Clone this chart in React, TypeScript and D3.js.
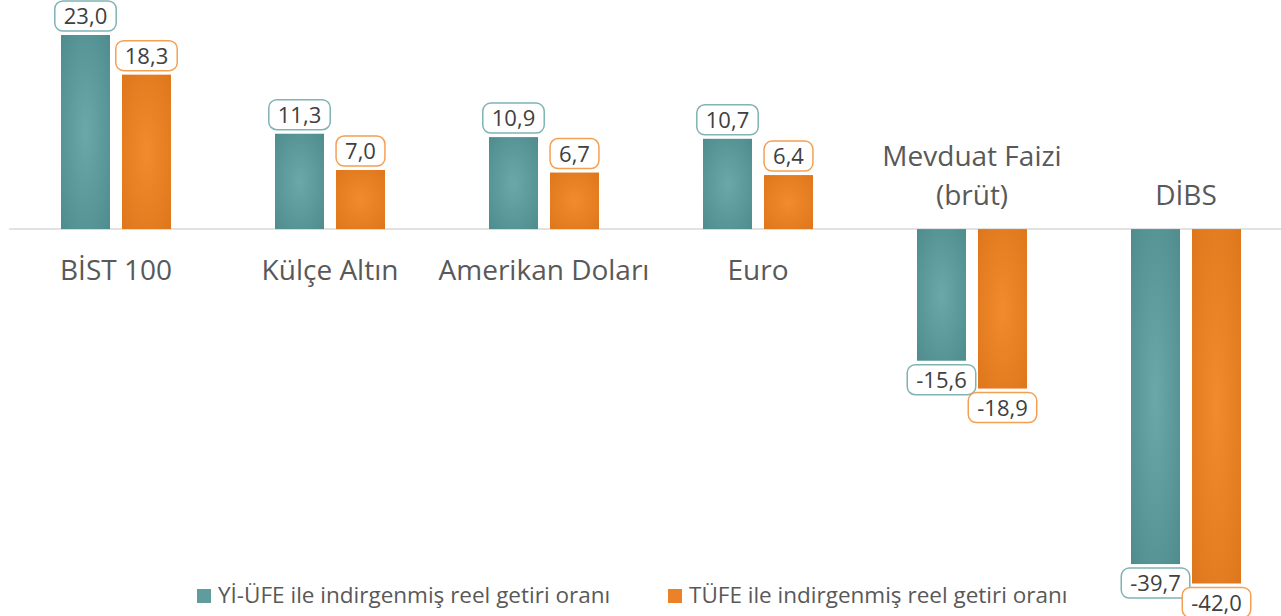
import React, { useEffect, useRef } from "react";
import * as d3 from "d3";

const categories = ["BİST 100", "Külçe Altın", "Amerikan Doları", "Euro", "Mevduat Faizi\n(brüt)", "DİBS"];
const seriesNames = ["Yİ-ÜFE ile indirgenmiş reel getiri oranı", "TÜFE ile indirgenmiş reel getiri oranı"];
const yiUfe = [23.0, 11.3, 10.9, 10.7, -15.6, -39.7];
const tufe = [18.3, 7.0, 6.7, 6.4, -18.9, -42.0];
const colors = ["#5f9c9d", "#ec8227"];
const borderColors = ["#7fb3b5", "#f3a055"];

const W = 1281;
const H = 616;
const FONT = "'Open Sans', 'Noto Sans', sans-serif";

export default function App() {
  const ref = useRef<SVGSVGElement | null>(null);
  useEffect(() => {
    const svg = d3.select(ref.current);
    svg.selectAll("*").remove();
    const defs = svg.append("defs");
    const grads = [
      ["g0", "#6aa8a9", "#4f8c8e"],
      ["g1", "#f28b2c", "#de761c"],
    ];
    grads.forEach(([id, c1, c2]) => {
      const g = defs.append("radialGradient").attr("id", id).attr("cx", "50%").attr("cy", "50%").attr("r", "70%");
      g.append("stop").attr("offset", "0%").attr("stop-color", c1);
      g.append("stop").attr("offset", "100%").attr("stop-color", c2);
    });

    const x = d3.scaleBand<number>().domain(d3.range(categories.length)).range([9, 1293]).paddingInner(0).paddingOuter(0);
    const y = d3.scaleLinear().domain([-42, 23]).range([583.5, 35]);
    const barW = 49;
    const gap = 12;
    const data = [yiUfe, tufe];

    // axis line
    svg.append("line").attr("x1", 9).attr("x2", W).attr("y1", y(0)).attr("y2", y(0))
      .attr("stroke", "#d9d9d9").attr("stroke-width", 1.5);

    data.forEach((series, si) => {
      series.forEach((v, ci) => {
        const cx = x(ci)! + x.bandwidth() / 2;
        const bx = si === 0 ? cx - gap / 2 - barW : cx + gap / 2;
        const y0 = y(0);
        const y1 = y(v);
        svg.append("rect").attr("x", bx).attr("width", barW)
          .attr("y", Math.min(y0, y1)).attr("height", Math.abs(y1 - y0))
          .attr("fill", `url(#g${si})`);
        // label
        const label = d3.format(".1f")(v).replace(".", ",").replace("−", "-");
        const g = svg.append("g");
        const t = g.append("text").attr("x", bx + barW / 2).attr("font-family", FONT).attr("font-size", 22)
          .attr("fill", "#404040").attr("text-anchor", "middle").text(label);
        const bh = 30;
        const tw = (t.node() as SVGTextElement).getComputedTextLength();
        const bw = tw + 18;
        const by = v >= 0 ? y1 - 4 - bh : y1 + 4;
        t.attr("y", by + bh / 2 + 8);
        g.insert("rect", "text").attr("x", bx + barW / 2 - bw / 2).attr("y", by).attr("width", bw).attr("height", bh)
          .attr("rx", 8).attr("fill", "white").attr("stroke", borderColors[si]).attr("stroke-width", 1.5);
      });
    });

    // category labels
    categories.forEach((c, ci) => {
      const cx = x(ci)! + x.bandwidth() / 2;
      const lines = c.split("\n");
      const neg = yiUfe[ci] < 0;
      lines.forEach((ln, li) => {
        const yy = neg ? 205 - (lines.length - 1 - li) * 39 : 280;
        svg.append("text").attr("x", cx).attr("y", yy).attr("text-anchor", "middle")
          .attr("font-family", FONT).attr("font-size", 28).attr("fill", "#595959").text(ln);
      });
    });

    // legend
    const legX = [197, 668];
    seriesNames.forEach((n, i) => {
      svg.append("rect").attr("x", legX[i]).attr("y", 589).attr("width", 14).attr("height", 14).attr("fill", colors[i]);
      svg.append("text").attr("x", legX[i] + 21).attr("y", 603).attr("font-family", FONT).attr("font-size", 22.5)
        .attr("fill", "#595959").text(n);
    });
  }, []);
  return (
    <svg ref={ref} width={W} height={H} style={{ position: "absolute", left: 0, top: 0, background: "white" }} />
  );
}
